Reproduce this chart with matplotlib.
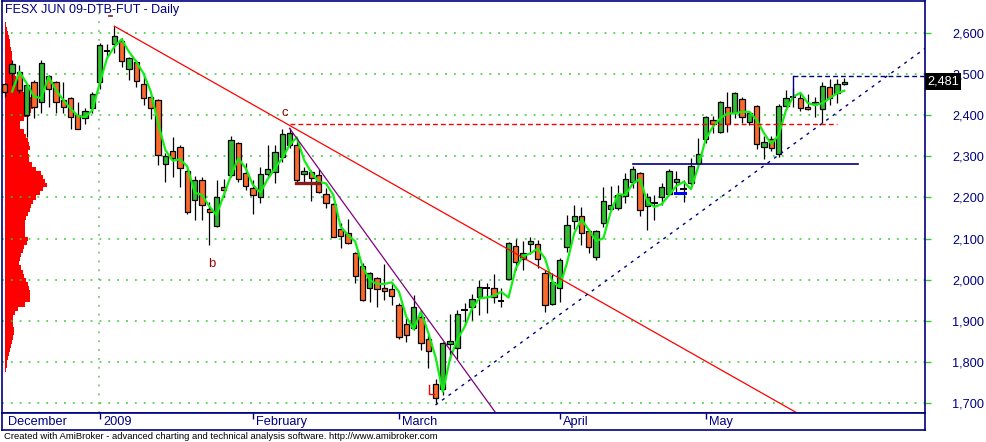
import matplotlib
matplotlib.use("Agg")
import matplotlib.pyplot as plt
import matplotlib.transforms as mtransforms
import numpy as np

plt.rcParams['font.family'] = ['Liberation Sans', 'DejaVu Sans']

title = "FESX JUN 09-DTB-FUT - Daily"
footer = ("Created with AmiBroker - advanced charting and technical analysis "
          "software. http://www.amibroker.com")

# daily OHLC (Dec 2008 .. end of May 2009)
opens = [2475, 2501, 2504, 2400, 2480, 2432, 2494, 2481, 2437, 2441, 2400, 2394, 2418,
         2481, 2556, 2572, 2580, 2511, 2528, 2475, 2443, 2436, 2280, 2312, 2322, 2263,
         2195, 2242, 2172, 2130, 2225, 2254, 2331, 2259, 2222, 2200, 2257, 2261, 2297,
         2327, 2327, 2256, 2261, 2254, 2208, 2184, 2123, 2113, 2064, 2034, 1979, 2004,
         1979, 1977, 1939, 1892, 1882, 1910, 1856, 1746, 1734, 1843, 1834, 1927, 1933,
         1958, 1980, 1979, 1948, 2002, 2083, 2051, 2086, 2086, 2016, 1941, 1979, 2079,
         2142, 2155, 2118, 2056, 2139, 2171, 2174, 2204, 2237, 2259, 2180, 2186, 2200,
         2208, 2237, 2221, 2234, 2283, 2341, 2387, 2360, 2420, 2404, 2439, 2382, 2422,
         2323, 2341, 2305, 2423, 2443, 2441, 2419, 2426, 2414, 2467, 2454, 2475]
highs = [2478, 2534, 2522, 2474, 2485, 2534, 2497, 2483, 2480, 2445, 2432, 2416, 2455,
         2576, 2573, 2616, 2586, 2542, 2534, 2495, 2449, 2438, 2307, 2346, 2327, 2275,
         2253, 2249, 2190, 2242, 2245, 2348, 2335, 2283, 2242, 2275, 2327, 2327, 2365,
         2368, 2339, 2275, 2267, 2268, 2222, 2186, 2137, 2147, 2068, 2040, 2020, 2008,
         2038, 1992, 1943, 1907, 1963, 1927, 1866, 1759, 1850, 1918, 1927, 1944, 1966,
         1999, 1992, 2013, 1979, 2093, 2098, 2095, 2105, 2097, 2024, 2016, 2052, 2157,
         2182, 2177, 2123, 2121, 2226, 2228, 2230, 2259, 2276, 2261, 2210, 2206, 2236,
         2268, 2264, 2242, 2295, 2344, 2397, 2398, 2435, 2457, 2455, 2445, 2408, 2424,
         2348, 2348, 2427, 2461, 2465, 2453, 2451, 2443, 2481, 2487, 2487, 2489]
lows = [2444, 2473, 2454, 2347, 2393, 2406, 2420, 2405, 2406, 2366, 2366, 2378, 2406,
        2463, 2538, 2550, 2517, 2485, 2469, 2424, 2390, 2279, 2238, 2249, 2226, 2161,
        2145, 2145, 2085, 2128, 2202, 2250, 2238, 2218, 2161, 2186, 2250, 2234, 2287,
        2319, 2234, 2234, 2192, 2211, 2174, 2103, 2078, 2087, 1992, 1949, 1947, 1935,
        1951, 1939, 1856, 1850, 1878, 1830, 1785, 1700, 1720, 1805, 1807, 1890, 1902,
        1914, 1920, 1943, 1933, 1999, 2024, 2024, 2063, 2028, 1923, 1939, 1947, 2068,
        2123, 2085, 2066, 2048, 2129, 2169, 2169, 2186, 2222, 2155, 2121, 2145, 2182,
        2206, 2214, 2190, 2230, 2279, 2331, 2356, 2357, 2360, 2392, 2380, 2376, 2317,
        2293, 2313, 2298, 2420, 2420, 2411, 2412, 2396, 2381, 2424, 2429, 2473]
closes = [2457, 2524, 2461, 2472, 2419, 2526, 2463, 2431, 2420, 2396, 2367, 2410, 2450,
          2569, 2556, 2592, 2532, 2538, 2483, 2441, 2416, 2302, 2301, 2295, 2271, 2165,
          2242, 2181, 2164, 2200, 2219, 2339, 2246, 2229, 2205, 2256, 2268, 2310, 2354,
          2356, 2242, 2264, 2248, 2214, 2187, 2105, 2107, 2089, 2009, 1951, 2016, 1978,
          1972, 1961, 1860, 1866, 1933, 1846, 1826, 1712, 1846, 1851, 1916, 1927, 1953,
          1982, 1980, 1958, 1948, 2089, 2043, 2066, 2095, 2050, 1938, 1994, 2047, 2132,
          2155, 2113, 2080, 2118, 2192, 2182, 2205, 2246, 2268, 2170, 2200, 2186, 2225,
          2264, 2244, 2221, 2276, 2305, 2395, 2379, 2431, 2378, 2453, 2395, 2404, 2329,
          2335, 2321, 2422, 2441, 2443, 2416, 2414, 2432, 2471, 2441, 2475, 2481]

# the green average line
avg_line = [np.nan, 2457, 2505, 2477, 2445, 2441, 2493, 2461, 2437, 2416, 2398, 2395, 2412,
            2477, 2538, 2566, 2584, 2554, 2530, 2501, 2457, 2380, 2315, 2289, 2293, 2275,
            2212, 2206, 2179, 2157, 2206, 2254, 2295, 2271, 2230, 2212, 2244, 2271, 2295,
            2327, 2346, 2291, 2260, 2238, 2234, 2206, 2129, 2109, 2093, 2032, 1999, 1990,
            1990, 1994, 1971, 1910, 1880, 1923, 1872, 1813, 1728, 1809, 1856, 1886, 1930,
            1955, 1957, 1961, 1971, 1957, 2028, 2058, 2064, 2076, 2052, 1995, 1983, 2040,
            2113, 2147, 2121, 2094, 2101, 2165, 2208, 2206, 2233, 2245, 2190, 2177, 2184,
            2206, 2228, 2238, 2220, 2275, 2341, 2372, 2392, 2404, 2404, 2408, 2408, 2388,
            2356, 2330, 2351, 2411, 2445, 2454, 2429, 2424, 2429, 2441, 2453, 2459]

# price-volume profile on the left (price level, relative volume)
profile_price = list(range(2620, 1770, -10))
profile_vol = [1, 2, 3, 4, 5, 5, 6, 7, 7, 7, 8, 9, 10, 11, 13, 15, 18, 24, 33, 33,
               28, 26, 24, 19, 15, 15, 19, 21, 23, 24, 25, 23, 24, 24, 27, 31, 36, 38,
               40, 42, 38, 35, 31, 28, 26, 25, 23, 21, 20, 20, 20, 20, 23, 22, 19, 18,
               16, 15, 14, 16, 18, 19, 21, 23, 24, 25, 25, 25, 20, 13, 10, 8, 8, 8, 9,
               9, 8, 7, 6, 5, 4, 3, 2, 2, 1]

# month labels: first bar of each month
month_idx = [0, 13, 34, 54, 76, 96]
month_lbl = ["December", "2009", "February", "March", "April", "May"]

# drawn studies (bar index, price)
red_trend = ([15, 108.5], [2616, 1677])
purple_trend = ([39, 67.25], [2368, 1677])
blue_trend = ([59, 127], [1696, 2574])
red_level = ([39, 114], [2379, 2379])
blue_level = ([86, 116.9], [2281, 2281])
blue_top = ([108, 127], [2496, 2496])
blue_top_leg = ([108, 108], [2443, 2496])
blue_mark = ([91.8, 93.2], [2211, 2211])
maroon_mark = ([39.9, 43.05], [2234, 2234])
top_mark = ([14.3, 14.7], [2640, 2640])
low_mark = ([58.15, 58.15, 58.8], [1744, 1722, 1722])
labels = [("c", 38.4, 2404), ("b", 28.4, 2038)]

navy = "#000080"
gridc = "#33cc33"
up_c = "#33bb33"
dn_c = "#fb6a2c"

W, H = 986, 442
fig = plt.figure(figsize=(W / 100, H / 100), dpi=100)
fig.patch.set_facecolor("white")

left_px, right_px, top_px, bot_px, strip_px = 1.5, 925, 1, 413, 430
ax = fig.add_axes([left_px / W, 1 - bot_px / H, (right_px - left_px) / W,
                   (bot_px - top_px) / H])
x0 = (left_px - 4.8) / 7.3
x1 = (right_px - 4.8) / 7.3
ax.set_xlim(x0, x1)
ax.set_ylim(1676.6, 2677)

o = np.array(opens, float)
h = np.array(highs, float)
l = np.array(lows, float)
c = np.array(closes, float)
x = np.arange(len(c))

# grid
ax.set_yticks(range(1700, 2700, 100))
ax.yaxis.set_major_formatter(matplotlib.ticker.FuncFormatter(lambda v, p: f"{int(v):,}"))
ax.grid(axis="y", color=gridc, linestyle=(0, (1.2, 4.6)), lw=1.1, zorder=0)
ax.axvline(month_idx[1] - 0.05, color="#66bb66", linestyle=(0, (1.2, 4.6)), lw=1.1, zorder=0)
ax.set_xticks([])

# volume profile
ax.barh(profile_price, np.array(profile_vol) / 7.3, left=0.03, height=10,
        color="red", lw=0, zorder=1)

# candles
ax.vlines(x, l, h, color="black", lw=0.9, zorder=3)
up = c > o
dn = c < o
dj = c == o
ax.bar(x[up], (c - o)[up], bottom=o[up], width=0.72, color=up_c,
       edgecolor="black", lw=0.9, zorder=4)
ax.bar(x[dn], (o - c)[dn], bottom=c[dn], width=0.72, color=dn_c,
       edgecolor="black", lw=0.9, zorder=4)
ax.hlines(c[dj], x[dj] - 0.45, x[dj] + 0.45, color="black", lw=1.4, zorder=4)

ax.plot(x, avg_line, color="#11ee11", lw=1.6, zorder=5)

# studies
ax.plot(*red_trend, color="red", lw=0.9, zorder=6)
ax.plot(*purple_trend, color="#800080", lw=0.9, zorder=6)
ax.plot(*blue_trend, color=navy, lw=1.0, linestyle=(0, (2.2, 3.6)), zorder=6)
ax.plot(*red_level, color="red", lw=1.0, linestyle=(0, (3.5, 2.2)), zorder=6)
ax.plot(*blue_level, color=navy, lw=1.2, zorder=6)
ax.plot(*blue_top, color=navy, lw=1.0, linestyle=(0, (3.5, 2.2)), zorder=6)
ax.plot(*blue_top_leg, color=navy, lw=1.0, zorder=6)
ax.plot(*blue_mark, color="#0000ff", lw=2.2, zorder=6)
ax.plot(*maroon_mark, color="#8b1a1a", lw=2.4, zorder=6)
ax.plot(*top_mark, color="#8b1a1a", lw=1.2, zorder=6)
ax.plot(*low_mark, color="red", lw=1.0, zorder=6)
for txt, lx, ly in labels:
    ax.text(lx, ly, txt, color="#990000", fontsize=9.5, ha="center", va="center", zorder=7)

# frame and right price axis
for sp in ax.spines.values():
    sp.set_color(navy)
    sp.set_linewidth(1.2)
ax.yaxis.tick_right()
ax.tick_params(axis="y", length=4, width=1, color=gridc, labelcolor=navy,
               labelsize=9.2, pad=15.5)

# last-price flag, sits over the 2,500 label as in the original
trans = mtransforms.blended_transform_factory(ax.transAxes, ax.transData)
ax.text(1.0025, c[-1], f"{int(c[-1]):,}", transform=trans, color="white",
        fontsize=9.2, ha="left", va="center", zorder=10, clip_on=False,
        bbox=dict(boxstyle="square,pad=0.18", fc="black", ec="none"))

# date strip
strip = fig.add_axes([left_px / W, 1 - strip_px / H, (right_px - left_px) / W,
                      (strip_px - bot_px) / H])
strip.set_xlim(x0, x1)
strip.set_ylim(0, 1)
strip.set_xticks([])
strip.set_yticks([])
for sp in strip.spines.values():
    sp.set_color(navy)
    sp.set_linewidth(1.2)
strip.vlines(month_idx[1:], 0.62, 1.0, color=navy, lw=1)
for mi, ml in zip(month_idx, month_lbl):
    strip.text(mi + 0.45, 0.45, ml, color=navy, fontsize=9.2, ha="left", va="center")

fig.text(5 / W, 1 - 10 / H, title, color=navy, fontsize=9.0, ha="left", va="center")
fig.text(4 / W, 1 - 436.5 / H, footer, color="black", fontsize=6.8, ha="left", va="center")

fig.savefig("out.png", dpi=100, facecolor="white")
